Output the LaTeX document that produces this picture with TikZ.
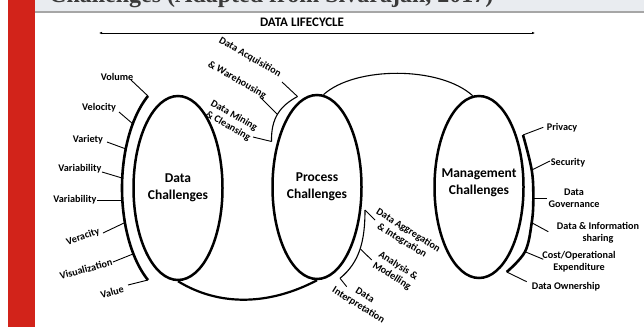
\documentclass[tikz,border=0pt]{standalone}
\usepackage{fontspec}
\setmainfont{Carlito}
\newfontfamily\headfont{Liberation Serif}
\usetikzlibrary{arrows.meta,shapes.geometric}
\definecolor{slidered}{HTML}{D2231A}
\definecolor{headbg}{HTML}{E9ECF0}
\definecolor{headline}{HTML}{A6A6A6}
\definecolor{headtext}{HTML}{3A3A3A}
\begin{document}
\begin{tikzpicture}[x=1pt,y=-1pt,
  lab/.style={font=\fontsize{10.2}{12}\selectfont\bfseries, inner sep=0.5pt, align=center},
  big/.style={font=\fontsize{13.5}{16.5}\selectfont\bfseries, align=center},
  oval/.style={ellipse, draw, line width=2.5pt, inner sep=0pt, minimum width=89pt, minimum height=184pt, big},
  thickbr/.style={line width=2.6pt},
  thinbr/.style={line width=1.1pt},
  tick/.style={line width=0.9pt},
]
\useasboundingbox (0,0) rectangle (644,327);
\fill[white] (0,0) rectangle (644,327);
% header
\fill[headbg] (35,0) rectangle (644,11.5);
\draw[headline, line width=1.6pt] (35,12) -- (644,12);
\begin{scope}
\clip (35,0) rectangle (644,11.2);
\node[anchor=base west, inner sep=0pt, font=\headfont\fontsize{24}{24}\selectfont\bfseries, text=headtext] (title) at (49,2.4) {Challenges (Adapted from Sivarajah, 2017)};
\end{scope}
\fill[slidered] (8,0) rectangle (35,327);

% lifecycle
\node[font=\fontsize{13}{15}\selectfont\bfseries, inner sep=0pt] (dlc) at (302,22) {DATA LIFECYCLE};
\coordinate (lcL) at (99,33);
\coordinate (lcR) at (535,33);
\draw[{Latex[length=3pt,width=2.6pt]}-{Latex[length=3pt,width=2.6pt]}, line width=0.8pt] (lcL) -- (lcR);

% ovals
\node[oval] (dc) at (178,188) {Data\\Challenges};
\node[oval] (pc) at (317,187) {Process\\Challenges};
\node[oval, minimum height=182pt] (mc) at (479,187) {};
\node[big] (mct) at (479,183) {Management\\Challenges};

\draw[line width=1.1pt] (pc.86) .. controls (355,66) and (440,66) .. (mc.94);
\draw[line width=2.2pt] (dc.south) .. controls (220,307) and (270,305) .. (pc.south);

% data bracket
\draw[thickbr] plot[domain=122.4:237.6, samples=60, variable=\t] ({178+56*cos(\t)},{188+109*sin(\t)});
\coordinate (bVol) at (148,96);
\coordinate (bVel) at (133,124);
\coordinate (bVar) at (126,149);
\coordinate (bVab) at (122,178);
\coordinate (bVab2) at (122,200);
\coordinate (bVer) at (124,223);
\coordinate (bVis) at (133,254);
\coordinate (bVal) at (148,280);
\node[lab] (vol) at (117,77) {Volume};
\node[lab] (vel) at (99,108) {Velocity};
\node[lab] (var) at (88,140) {Variety};
\node[lab] (vab) at (80,169) {Variability};
\node[lab] (vab2) at (75,200) {Variability};
\node[lab, rotate=19] (ver) at (83,237) {Veracity};
\node[lab, rotate=15] (vis) at (86,269) {Visualization};
\node[lab, rotate=15] (val) at (112,292) {Value};
\coordinate (tVol) at (131,80);
\coordinate (tVel) at (119,112);
\coordinate (tVar) at (107,142);
\coordinate (tVab) at (102,172);
\coordinate (tVab2) at (97,200);
\coordinate (tVer) at (103,233);
\coordinate (tVis) at (113,262);
\coordinate (tVal) at (128,285);
\foreach \a in {Vol,Vel,Var,Vab,Vab2,Ver,Vis,Val} \draw[tick] (t\a) -- (b\a);

% process upper bracket
\coordinate (bAcq) at (297.5,96.5);
\coordinate (bWar) at (277,114);
\coordinate (bMin) at (271.5,141.5);
\draw[thinbr] (bAcq) .. controls (280,106) and (271,118) .. (bMin);
\node[lab, rotate=-30] (acq) at (250,57) {Data Acquisition};
\node[lab, rotate=-30] (war) at (237,80) {\& Warehousing};
\node[lab, rotate=-30] (min) at (231,121) {Data Mining\\\& Cleansing};
\coordinate (tAcq) at (282,82);
\coordinate (tWar) at (261,98);
\coordinate (tMin) at (253,137);
\foreach \a in {Acq,War,Min} \draw[tick] (t\a) -- (b\a);

% process lower bracket
\coordinate (bAgg) at (365,210);
\coordinate (bAna) at (360.5,249);
\coordinate (bInt) at (340,278.3);
\draw[thinbr] (bAgg) .. controls (365,240) and (360,262) .. (bInt);
\node[lab, rotate=-32] (agg) at (405,235.5) {Data Aggregation\\\& Integration};
\node[lab, rotate=-32] (ana) at (395,271) {Analysis \&\\Modelling};
\node[lab, rotate=-32] (int) at (361.5,300.5) {Data\\Interpretation};
\coordinate (tAgg) at (375,220);
\coordinate (tAna) at (371.7,260);
\coordinate (tInt) at (346.7,286.7);
\foreach \a in {Agg,Ana,Int} \draw[tick] (b\a) -- (t\a);

% management bracket
\coordinate (bPri) at (523,135);
\coordinate (bSec) at (531.7,170);
\coordinate (bGov) at (533.3,198.3);
\coordinate (bSha) at (531.7,222.7);
\coordinate (bCos) at (525,251.7);
\coordinate (bOwn) at (506.7,272);
\draw[thickbr] plot[smooth, tension=0.6] coordinates {(523,135) (531.7,170) (533.3,198.3) (531.7,222.7) (525,251.7) (506.7,272)};
\node[lab] (pri) at (562,128) {Privacy};
\node[lab] (sec) at (568,163) {Security};
\node[lab] (gov) at (574,198) {Data\\Governance};
\node[lab] (sha) at (598,232.5) {Data \& Information\\sharing};
\node[lab] (cos) at (579,262) {Cost/Operational\\Expenditure};
\node[lab] (own) at (566,287) {Data Ownership};
\coordinate (tPri) at (543.3,127.3);
\coordinate (tSec) at (550,161);
\coordinate (tGov) at (546.7,198.3);
\coordinate (tSha) at (548.3,231.7);
\coordinate (tCos) at (543.3,259.3);
\coordinate (tOwn) at (526.7,281.7);
\foreach \a in {Pri,Sec,Gov,Sha,Cos,Own} \draw[tick] (b\a) -- (t\a);
\end{tikzpicture}
\end{document}
